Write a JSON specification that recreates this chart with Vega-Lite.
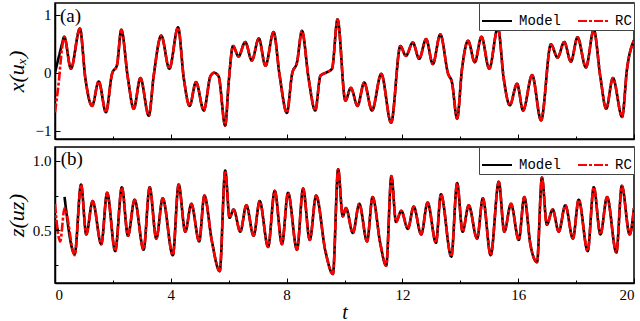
{
  "$schema": "https://vega.github.io/schema/vega-lite/v6.json",
  "background": "white",
  "padding": {"left": 4, "top": 1, "right": 0, "bottom": 0},
  "config": {
    "view": {"stroke": "black", "strokeWidth": 1.5},
    "axis": {"domainColor": "black", "domainWidth": 1.5, "tickColor": "black", "tickWidth": 1, "labelFont": "Liberation Serif", "labelFontSize": 15, "labelColor": "black", "titleFont": "Liberation Serif", "titleColor": "black", "titleFontWeight": "normal", "grid": false},
    "legend": {"orient": "top-right", "direction": "horizontal", "offset": 0, "strokeColor": "#444", "strokeWidth": 1, "fillColor": "white", "padding": 2, "labelFont": "Liberation Mono", "labelFontSize": 14, "labelColor": "black", "symbolType": "stroke", "symbolSize": 900, "symbolStrokeWidth": 2, "columnPadding": 12, "labelOffset": 6, "title": null},
    "concat": {"spacing": 4}
  },
  "datasets": {
    "top": [
      {"t": 0.00, "Model": 0.00, "RC": -0.68},
      {"t": 0.13, "Model": 0.27, "RC": -0.16},
      {"t": 0.24, "Model": 0.49, "RC": 0.41},
      {"t": 0.32, "Model": 0.62, "RC": 0.62},
      {"t": 0.55, "Model": 0.07, "RC": 0.07},
      {"t": 0.86, "Model": 0.76, "RC": 0.76},
      {"t": 1.05, "Model": -0.10, "RC": -0.10},
      {"t": 1.28, "Model": -0.57, "RC": -0.57},
      {"t": 1.51, "Model": -0.15, "RC": -0.15},
      {"t": 1.76, "Model": -0.68, "RC": -0.68},
      {"t": 1.97, "Model": -0.02, "RC": -0.02},
      {"t": 2.14, "Model": 0.13, "RC": 0.13},
      {"t": 2.29, "Model": 0.74, "RC": 0.74},
      {"t": 2.52, "Model": -0.10, "RC": -0.10},
      {"t": 2.72, "Model": -0.62, "RC": -0.62},
      {"t": 2.95, "Model": -0.09, "RC": -0.09},
      {"t": 3.24, "Model": -0.74, "RC": -0.74},
      {"t": 3.41, "Model": -0.05, "RC": -0.05},
      {"t": 3.67, "Model": 0.64, "RC": 0.64},
      {"t": 3.95, "Model": 0.07, "RC": 0.07},
      {"t": 4.25, "Model": 0.78, "RC": 0.78},
      {"t": 4.45, "Model": -0.10, "RC": -0.10},
      {"t": 4.65, "Model": -0.57, "RC": -0.57},
      {"t": 4.87, "Model": -0.16, "RC": -0.16},
      {"t": 5.14, "Model": -0.65, "RC": -0.65},
      {"t": 5.37, "Model": -0.06, "RC": -0.06},
      {"t": 5.50, "Model": 0.00, "RC": 0.00},
      {"t": 5.65, "Model": -0.06, "RC": -0.06},
      {"t": 5.88, "Model": -0.91, "RC": -0.91},
      {"t": 6.00, "Model": -0.16, "RC": -0.16},
      {"t": 6.15, "Model": 0.46, "RC": 0.46},
      {"t": 6.34, "Model": 0.28, "RC": 0.28},
      {"t": 6.57, "Model": 0.53, "RC": 0.53},
      {"t": 6.80, "Model": 0.21, "RC": 0.21},
      {"t": 7.04, "Model": 0.59, "RC": 0.59},
      {"t": 7.27, "Model": 0.12, "RC": 0.12},
      {"t": 7.55, "Model": 0.70, "RC": 0.70},
      {"t": 7.76, "Model": -0.05, "RC": -0.05},
      {"t": 8.01, "Model": -0.69, "RC": -0.69},
      {"t": 8.19, "Model": -0.02, "RC": -0.02},
      {"t": 8.36, "Model": 0.18, "RC": 0.18},
      {"t": 8.53, "Model": 0.72, "RC": 0.72},
      {"t": 8.76, "Model": -0.10, "RC": -0.10},
      {"t": 8.99, "Model": -0.65, "RC": -0.65},
      {"t": 9.17, "Model": -0.05, "RC": -0.05},
      {"t": 9.40, "Model": 0.01, "RC": 0.01},
      {"t": 9.57, "Model": 0.07, "RC": 0.07},
      {"t": 9.76, "Model": 0.92, "RC": 0.92},
      {"t": 10.03, "Model": -0.48, "RC": -0.48},
      {"t": 10.22, "Model": -0.26, "RC": -0.26},
      {"t": 10.45, "Model": -0.57, "RC": -0.57},
      {"t": 10.68, "Model": -0.17, "RC": -0.17},
      {"t": 10.95, "Model": -0.65, "RC": -0.65},
      {"t": 11.27, "Model": -0.02, "RC": -0.02},
      {"t": 11.61, "Model": -0.86, "RC": -0.86},
      {"t": 11.93, "Model": 0.46, "RC": 0.46},
      {"t": 12.12, "Model": 0.29, "RC": 0.29},
      {"t": 12.36, "Model": 0.52, "RC": 0.52},
      {"t": 12.58, "Model": 0.24, "RC": 0.24},
      {"t": 12.82, "Model": 0.58, "RC": 0.58},
      {"t": 13.05, "Model": 0.15, "RC": 0.15},
      {"t": 13.31, "Model": 0.66, "RC": 0.66},
      {"t": 13.58, "Model": -0.02, "RC": -0.02},
      {"t": 13.71, "Model": -0.16, "RC": -0.16},
      {"t": 13.89, "Model": -0.79, "RC": -0.79},
      {"t": 14.06, "Model": 0.07, "RC": 0.07},
      {"t": 14.27, "Model": 0.55, "RC": 0.55},
      {"t": 14.50, "Model": 0.18, "RC": 0.18},
      {"t": 14.73, "Model": 0.62, "RC": 0.62},
      {"t": 15.00, "Model": 0.07, "RC": 0.07},
      {"t": 15.30, "Model": 0.78, "RC": 0.78},
      {"t": 15.50, "Model": -0.10, "RC": -0.10},
      {"t": 15.71, "Model": -0.56, "RC": -0.56},
      {"t": 15.96, "Model": -0.19, "RC": -0.19},
      {"t": 16.17, "Model": -0.65, "RC": -0.65},
      {"t": 16.48, "Model": -0.04, "RC": -0.04},
      {"t": 16.79, "Model": -0.82, "RC": -0.82},
      {"t": 17.13, "Model": 0.49, "RC": 0.49},
      {"t": 17.36, "Model": 0.26, "RC": 0.26},
      {"t": 17.59, "Model": 0.53, "RC": 0.53},
      {"t": 17.82, "Model": 0.19, "RC": 0.19},
      {"t": 18.05, "Model": 0.61, "RC": 0.61},
      {"t": 18.34, "Model": 0.09, "RC": 0.09},
      {"t": 18.61, "Model": 0.74, "RC": 0.74},
      {"t": 18.84, "Model": -0.08, "RC": -0.08},
      {"t": 19.04, "Model": -0.62, "RC": -0.62},
      {"t": 19.27, "Model": -0.09, "RC": -0.09},
      {"t": 19.59, "Model": -0.76, "RC": -0.76},
      {"t": 19.76, "Model": 0.07, "RC": 0.07},
      {"t": 20.00, "Model": 0.56, "RC": 0.56}
    ],
    "bottom": [
      {"t": 0.00, "Model": 0.57, "RC": 0.69},
      {"t": 0.11, "Model": 0.49, "RC": 0.47},
      {"t": 0.18, "Model": null, "RC": 0.42},
      {"t": 0.33, "Model": 0.74, "RC": 0.66},
      {"t": 0.68, "Model": 0.33, "RC": 0.32},
      {"t": 0.90, "Model": 0.83, "RC": 0.83},
      {"t": 1.08, "Model": 0.47, "RC": 0.47},
      {"t": 1.30, "Model": 0.71, "RC": 0.71},
      {"t": 1.60, "Model": 0.40, "RC": 0.40},
      {"t": 1.80, "Model": 0.77, "RC": 0.77},
      {"t": 2.08, "Model": 0.35, "RC": 0.35},
      {"t": 2.31, "Model": 0.81, "RC": 0.81},
      {"t": 2.52, "Model": 0.46, "RC": 0.46},
      {"t": 2.75, "Model": 0.72, "RC": 0.72},
      {"t": 3.06, "Model": 0.36, "RC": 0.36},
      {"t": 3.27, "Model": 0.81, "RC": 0.81},
      {"t": 3.50, "Model": 0.44, "RC": 0.44},
      {"t": 3.72, "Model": 0.73, "RC": 0.73},
      {"t": 4.07, "Model": 0.32, "RC": 0.32},
      {"t": 4.27, "Model": 0.83, "RC": 0.83},
      {"t": 4.50, "Model": 0.49, "RC": 0.49},
      {"t": 4.71, "Model": 0.69, "RC": 0.69},
      {"t": 4.98, "Model": 0.42, "RC": 0.42},
      {"t": 5.16, "Model": 0.75, "RC": 0.75},
      {"t": 5.42, "Model": 0.42, "RC": 0.42},
      {"t": 5.69, "Model": 0.205, "RC": 0.205},
      {"t": 5.88, "Model": 0.93, "RC": 0.93},
      {"t": 6.03, "Model": 0.59, "RC": 0.59},
      {"t": 6.17, "Model": 0.65, "RC": 0.65},
      {"t": 6.40, "Model": 0.49, "RC": 0.49},
      {"t": 6.61, "Model": 0.68, "RC": 0.68},
      {"t": 6.86, "Model": 0.46, "RC": 0.46},
      {"t": 7.07, "Model": 0.71, "RC": 0.71},
      {"t": 7.36, "Model": 0.38, "RC": 0.38},
      {"t": 7.59, "Model": 0.785, "RC": 0.785},
      {"t": 7.84, "Model": 0.40, "RC": 0.40},
      {"t": 8.05, "Model": 0.77, "RC": 0.77},
      {"t": 8.36, "Model": 0.36, "RC": 0.36},
      {"t": 8.57, "Model": 0.80, "RC": 0.80},
      {"t": 8.80, "Model": 0.43, "RC": 0.43},
      {"t": 9.02, "Model": 0.75, "RC": 0.75},
      {"t": 9.34, "Model": 0.35, "RC": 0.35},
      {"t": 9.60, "Model": 0.185, "RC": 0.185},
      {"t": 9.78, "Model": 0.94, "RC": 0.94},
      {"t": 9.94, "Model": 0.60, "RC": 0.60},
      {"t": 10.05, "Model": 0.66, "RC": 0.66},
      {"t": 10.29, "Model": 0.48, "RC": 0.48},
      {"t": 10.51, "Model": 0.69, "RC": 0.69},
      {"t": 10.78, "Model": 0.42, "RC": 0.42},
      {"t": 10.97, "Model": 0.74, "RC": 0.74},
      {"t": 11.24, "Model": 0.40, "RC": 0.40},
      {"t": 11.44, "Model": 0.245, "RC": 0.245},
      {"t": 11.62, "Model": 0.89, "RC": 0.89},
      {"t": 11.78, "Model": 0.56, "RC": 0.56},
      {"t": 11.96, "Model": 0.64, "RC": 0.64},
      {"t": 12.19, "Model": 0.51, "RC": 0.51},
      {"t": 12.39, "Model": 0.67, "RC": 0.67},
      {"t": 12.65, "Model": 0.47, "RC": 0.47},
      {"t": 12.87, "Model": 0.70, "RC": 0.70},
      {"t": 13.16, "Model": 0.41, "RC": 0.41},
      {"t": 13.33, "Model": 0.76, "RC": 0.76},
      {"t": 13.69, "Model": 0.31, "RC": 0.31},
      {"t": 13.89, "Model": 0.84, "RC": 0.84},
      {"t": 14.08, "Model": 0.49, "RC": 0.49},
      {"t": 14.29, "Model": 0.68, "RC": 0.68},
      {"t": 14.58, "Model": 0.44, "RC": 0.44},
      {"t": 14.78, "Model": 0.73, "RC": 0.73},
      {"t": 15.05, "Model": 0.32, "RC": 0.32},
      {"t": 15.33, "Model": 0.85, "RC": 0.85},
      {"t": 15.52, "Model": 0.49, "RC": 0.49},
      {"t": 15.75, "Model": 0.69, "RC": 0.69},
      {"t": 16.02, "Model": 0.43, "RC": 0.43},
      {"t": 16.21, "Model": 0.74, "RC": 0.74},
      {"t": 16.42, "Model": 0.40, "RC": 0.40},
      {"t": 16.65, "Model": 0.27, "RC": 0.27},
      {"t": 16.82, "Model": 0.88, "RC": 0.88},
      {"t": 16.99, "Model": 0.54, "RC": 0.54},
      {"t": 17.19, "Model": 0.65, "RC": 0.65},
      {"t": 17.40, "Model": 0.49, "RC": 0.49},
      {"t": 17.63, "Model": 0.68, "RC": 0.68},
      {"t": 17.89, "Model": 0.44, "RC": 0.44},
      {"t": 18.09, "Model": 0.72, "RC": 0.72},
      {"t": 18.40, "Model": 0.35, "RC": 0.35},
      {"t": 18.61, "Model": 0.81, "RC": 0.81},
      {"t": 18.84, "Model": 0.47, "RC": 0.47},
      {"t": 19.07, "Model": 0.74, "RC": 0.74},
      {"t": 19.39, "Model": 0.34, "RC": 0.34},
      {"t": 19.58, "Model": 0.82, "RC": 0.82},
      {"t": 19.85, "Model": 0.47, "RC": 0.47},
      {"t": 20.00, "Model": 0.66, "RC": 0.66}
    ],
    "labels": [
      {"panel": "a", "t": 0.17, "v": 0.98, "label": "(a)"},
      {"panel": "b", "t": 0.2, "v": 1.01, "label": "(b)"}
    ]
  },
  "resolve": {"scale": {"y": "independent", "color": "independent", "strokeDash": "independent"}, "legend": {"color": "independent", "strokeDash": "independent"}},
  "vconcat": [
    {
      "width": 579,
      "height": 136,
      "layer": [
        {
          "data": {"name": "top"},
          "transform": [{"fold": ["Model", "RC"], "as": ["series", "value"]}],
          "mark": {"type": "line", "interpolate": "monotone", "strokeWidth": 2.6, "clip": true},
          "encoding": {
            "x": {"field": "t", "type": "quantitative", "scale": {"domain": [0, 20], "nice": false},
                  "axis": {"values": [0, 2, 4, 6, 8, 10, 12, 14, 16, 18, 20], "labels": false, "title": null,
                           "tickSize": {"condition": {"test": "datum.value % 4 === 0", "value": -5}, "value": -3}}},
            "y": {"field": "value", "type": "quantitative", "scale": {"domain": [-1.14, 1.2], "nice": false, "zero": false},
                  "axis": {"values": [-1, -0.5, 0, 0.5, 1], "labelExpr": "datum.value === 1 ? '1' : datum.value === 0 ? '0' : datum.value === -1 ? '−1' : ''",
                           "tickSize": {"condition": {"test": "datum.value === 0.5 || datum.value === -0.5", "value": -3}, "value": -5},
                           "labelFont": "Liberation Serif", "labelPadding": 9, "title": "x(uₓ)", "titleFont": "Liberation Serif", "titleFontSize": 22, "titleFontStyle": "italic", "titleX": -27}},
            "color": {"field": "series", "type": "nominal", "scale": {"domain": ["Model", "RC"], "range": ["#000000", "#ff0000"]}},
            "strokeDash": {"field": "series", "type": "nominal", "scale": {"domain": ["Model", "RC"], "range": [[1, 0], [9, 2, 3, 2]]}}
          }
        },
        {
          "data": {"name": "labels"},
          "transform": [{"filter": "datum.panel === 'a'"}],
          "mark": {"type": "text", "align": "left", "baseline": "middle", "font": "Liberation Serif", "fontSize": 19, "color": "black"},
          "encoding": {
            "x": {"field": "t", "type": "quantitative"},
            "y": {"field": "v", "type": "quantitative"},
            "text": {"field": "label"}
          }
        }
      ]
    },
    {
      "width": 579,
      "height": 136,
      "layer": [
        {
          "data": {"name": "bottom"},
          "transform": [{"fold": ["Model", "RC"], "as": ["series", "value"]}],
          "mark": {"type": "line", "interpolate": "monotone", "strokeWidth": 2.6, "clip": true},
          "encoding": {
            "x": {"field": "t", "type": "quantitative", "scale": {"domain": [0, 20], "nice": false},
                  "axis": {"values": [0, 2, 4, 6, 8, 10, 12, 14, 16, 18, 20], "labelExpr": "datum.value % 4 === 0 ? datum.label : ''",
                           "tickSize": {"condition": {"test": "datum.value % 4 === 0", "value": -5}, "value": -3},
                           "labelFont": "Liberation Serif", "labelPadding": 9, "labelFontSize": 15, "title": "t", "titleFont": "Liberation Serif", "titleFontSize": 20, "titleFontStyle": "italic", "titlePadding": 0}},
            "y": {"field": "value", "type": "quantitative", "scale": {"domain": [0.12, 1.1], "nice": false, "zero": false},
                  "axis": {"values": [0.25, 0.5, 0.75, 1.0], "format": ".1f", "labelExpr": "datum.value === 0.5 || datum.value === 1 ? datum.label : ''",
                           "tickSize": {"condition": {"test": "datum.value === 0.5 || datum.value === 1", "value": -5}, "value": -3},
                           "labelFont": "Liberation Serif", "labelPadding": 9, "title": "z(uᴢ)", "titleFont": "Liberation Serif", "titleFontSize": 22, "titleFontStyle": "italic", "titleX": -27}},
            "color": {"field": "series", "type": "nominal", "scale": {"domain": ["Model", "RC"], "range": ["#000000", "#ff0000"]}},
            "strokeDash": {"field": "series", "type": "nominal", "scale": {"domain": ["Model", "RC"], "range": [[1, 0], [9, 2, 3, 2]]}}
          }
        },
        {
          "data": {"name": "labels"},
          "transform": [{"filter": "datum.panel === 'b'"}],
          "mark": {"type": "text", "align": "left", "baseline": "middle", "font": "Liberation Serif", "fontSize": 19, "color": "black"},
          "encoding": {
            "x": {"field": "t", "type": "quantitative"},
            "y": {"field": "v", "type": "quantitative"},
            "text": {"field": "label"}
          }
        }
      ]
    }
  ]
}
